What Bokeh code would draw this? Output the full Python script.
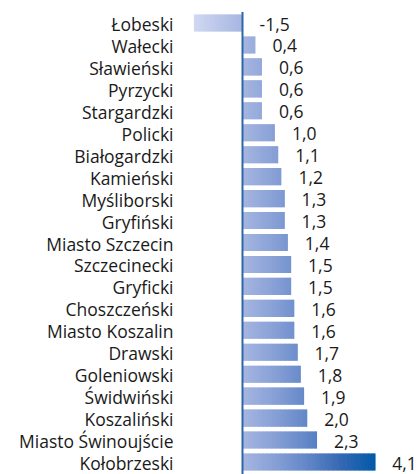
import numpy as np
from bokeh.plotting import figure
from bokeh.models import ColumnDataSource
from bokeh.core.properties import value
from bokeh.embed import file_html
from bokeh.resources import INLINE

categories = ["Łobeski", "Wałecki", "Sławieński", "Pyrzycki", "Stargardzki", "Policki",
              "Białogardzki", "Kamieński", "Myśliborski", "Gryfiński", "Miasto Szczecin",
              "Szczecinecki", "Gryficki", "Choszczeński", "Miasto Koszalin", "Drawski",
              "Goleniowski", "Świdwiński", "Koszaliński", "Miasto Świnoujście", "Kołobrzeski"]
values = [-1.5, 0.4, 0.6, 0.6, 0.6, 1.0, 1.1, 1.2, 1.3, 1.3, 1.4, 1.5, 1.5, 1.6, 1.6,
          1.7, 1.8, 1.9, 2.0, 2.3, 4.1]

# gradient colour stops (value -> rgb)
stop_x = [-1.5, 0.0, 1.0, 2.0, 3.0, 4.1]
stop_rgb = [(208, 216, 241), (166, 182, 225), (135, 160, 214), (98, 135, 200),
            (55, 105, 180), (0, 90, 168)]

FONT = "Open Sans"
W, H = 418, 474
PX = 32.4          # pixels per unit
ZERO = 242         # plot x of zero
ROW = 21.95        # pixels per row
TOP = 22.5         # plot y of first row centre

n = len(categories)
ys = [-i for i in range(n)]

p = figure(width=W, height=H, output_backend="svg", toolbar_location=None,
           x_range=(-ZERO / PX, (W - ZERO) / PX),
           y_range=(-(n - 1) - (H - TOP - (n - 1) * ROW) / ROW, TOP / ROW),
           min_border=0, outline_line_color=None)
p.axis.visible = False
p.grid.visible = False
p.background_fill_color = "white"
p.border_fill_color = "white"

# gradient bars: split each bar into thin slices coloured by their x position
sr = np.array(stop_rgb, dtype=float)
def col(x):
    r = np.interp(x, stop_x, sr[:, 0])
    g = np.interp(x, stop_x, sr[:, 1])
    b = np.interp(x, stop_x, sr[:, 2])
    return "#%02x%02x%02x" % (int(round(r)), int(round(g)), int(round(b)))

ds = 0.04
L, R, Y, C = [], [], [], []
for y, v in zip(ys, values):
    a, b = min(0.0, v), max(0.0, v)
    x = a
    while x < b - 1e-9:
        right = min(x + ds * 1.6, b)
        L.append(x); R.append(right); Y.append(y); C.append(col(x + ds / 2))
        x += ds
p.hbar(y="y", left="l", right="r", height=0.78, fill_color="c", line_color=None,
       source=ColumnDataSource(dict(y=Y, l=L, r=R, c=C)))

# zero line
p.segment(x0=[0], y0=[0.5], x1=[0], y1=[-(n + 1)], line_color="#2f66a8", line_width=2)

# category labels
p.text(x=[0] * n, y=ys, text=categories, x_offset=-69, y_offset=1, text_align="right",
       text_baseline="middle", text_font=value(FONT), text_font_size="17.5px",
       text_color="#1a1a1a")

# value labels
labels = [("%.1f" % v).replace(".", ",") for v in values]
p.text(x=[max(v, 0) for v in values], y=ys, text=labels, x_offset=17, y_offset=1,
       text_align="left", text_baseline="middle", text_font=value(FONT),
       text_font_size="17.5px", text_color="#1a1a1a")

open("out.html", "w").write(file_html(p, INLINE))
